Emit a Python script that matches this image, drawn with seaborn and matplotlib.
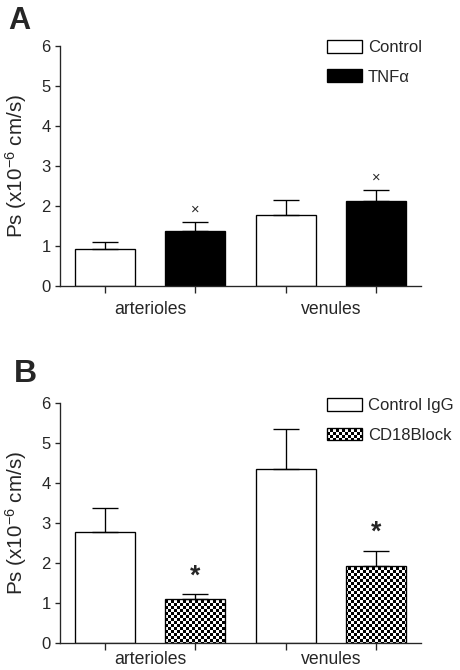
import warnings
import numpy as np
import pandas as pd
import matplotlib
matplotlib.use('Agg')
import matplotlib.pyplot as plt
import matplotlib.hatch as mhatch
from matplotlib.path import Path
import seaborn as sns

warnings.filterwarnings('ignore', category=matplotlib.MatplotlibDeprecationWarning)

#data (means and upper SEM)
vessels = ['arterioles', 'venules']

a_groups = ['Control', 'TNFα']
a_control = [0.93, 1.77]
a_control_err = [0.18, 0.37]
a_tnf = [1.38, 2.13]
a_tnf_err = [0.22, 0.26]

b_groups = ['Control IgG', 'CD18Block']
b_control = [2.78, 4.35]
b_control_err = [0.59, 0.99]
b_block = [1.09, 1.92]
b_block_err = [0.13, 0.38]

y_ticks = [0, 1, 2, 3, 4, 5, 6]


#checkerboard hatch, 'c' in the hatch string turns it on (32 cells per tile)
class CheckerHatch(mhatch.HatchPatternBase):
    def __init__(self, hatch, density):
        self.n = 32 if (hatch and 'c' in hatch) else 0
        self.num_vertices = self.n * self.n // 2 * 5

    def set_vertices_and_codes(self, vertices, codes):
        s = 1.0 / self.n
        k = 0
        for i in range(self.n):
            for j in range(self.n):
                if (i + j) % 2:
                    continue
                x0, y0 = i * s, j * s
                vertices[k:k + 5] = [(x0, y0), (x0 + s, y0), (x0 + s, y0 + s), (x0, y0 + s), (x0, y0)]
                codes[k:k + 5] = [Path.MOVETO, Path.LINETO, Path.LINETO, Path.LINETO, Path.CLOSEPOLY]
                k += 5


mhatch._hatch_types.append(CheckerHatch)

sns.set_style('ticks')
plt.rcParams['font.family'] = ['Liberation Sans', 'DejaVu Sans']
plt.rcParams['mathtext.default'] = 'regular'
plt.rcParams['hatch.linewidth'] = 0.01

fig = plt.figure(figsize=(460 / 96, 670 / 96), dpi=96)
ax_a = fig.add_axes([60 / 460, 384 / 670, 361 / 460, 240 / 670])
ax_b = fig.add_axes([60 / 460, 27 / 670, 361 / 460, 240 / 670])


def draw_panel(ax, groups, first, first_err, second, second_err, colors, hatch,
               mark, mark_off, mark_size, xpad, leg_y):
    df = pd.DataFrame({
        'vessel': vessels * 2,
        'group': [groups[0]] * 2 + [groups[1]] * 2,
        'ps': first + second,
    })
    sns.barplot(data=df, x='vessel', y='ps', hue='group', hue_order=groups,
                palette=dict(zip(groups, colors)), saturation=1, width=1.0, gap=0.333,
                edgecolor='black', linewidth=1.0, errorbar=None, legend=False, ax=ax)
    bars = list(ax.containers[:2])
    if hatch:
        for p in bars[1].patches:
            p.set_hatch(hatch)
    centers = []
    for cont, vals, errs in zip(bars, [first, second], [first_err, second_err]):
        xs = [p.get_x() + p.get_width() / 2 for p in cont.patches]
        centers += xs
        ax.errorbar(xs, vals, yerr=[np.zeros(len(errs)), errs], fmt='none',
                    ecolor='black', elinewidth=1.0, capsize=9.5, capthick=1.0, zorder=1)
    #significance marks over the second group
    xs2 = [p.get_x() + p.get_width() / 2 for p in bars[1].patches]
    for x, v, e in zip(xs2, second, second_err):
        ax.text(x, v + e + mark_off, mark, ha='center', va='center', fontsize=mark_size,
                fontweight='bold' if mark == '*' else 'normal')

    ax.set_xlim(-0.5, 1.5)
    ax.set_ylim(0, 6)
    ax.set_yticks(y_ticks)
    ax.set_xticks([0, 1])
    ax.set_xticklabels(vessels)
    ax.set_xticks(centers, minor=True)
    ax.tick_params(axis='x', which='major', length=0, pad=xpad, labelsize=13.2)
    ax.tick_params(axis='x', which='minor', length=5, width=1.0, direction='out')
    ax.tick_params(axis='y', length=4, width=1.0, pad=3, labelsize=12.5)
    ax.set_xlabel('')
    ax.set_ylabel('Ps (x10$^{-6}$ cm/s)', fontsize=15.5, labelpad=9)
    sns.despine(ax=ax)
    for sp in ['left', 'bottom']:
        ax.spines[sp].set_linewidth(1.0)
    ax.legend(handles=bars, labels=groups, loc='upper left', bbox_to_anchor=(0.74, leg_y),
              frameon=False, fontsize=12.5, handlelength=2.1, handleheight=0.8,
              handletextpad=0.35, labelspacing=0.85, borderpad=0, borderaxespad=0)
    return bars


draw_panel(ax_a, a_groups, a_control, a_control_err, a_tnf, a_tnf_err,
           ['white', 'black'], None, '×', 0.31, 11, 11, 1.025)
draw_panel(ax_b, b_groups, b_control, b_control_err, b_block, b_block_err,
           ['white', 'white'], 'c', '*', 0.45, 20, 6, 1.02)

fig.text(8 / 460, 1 - 6 / 670, 'A', fontsize=23, fontweight='bold', va='top', ha='left')
fig.text(14 / 460, 1 - 359 / 670, 'B', fontsize=24, fontweight='bold', va='top', ha='left')

plt.savefig('out.png', dpi=96)
plt.close()
